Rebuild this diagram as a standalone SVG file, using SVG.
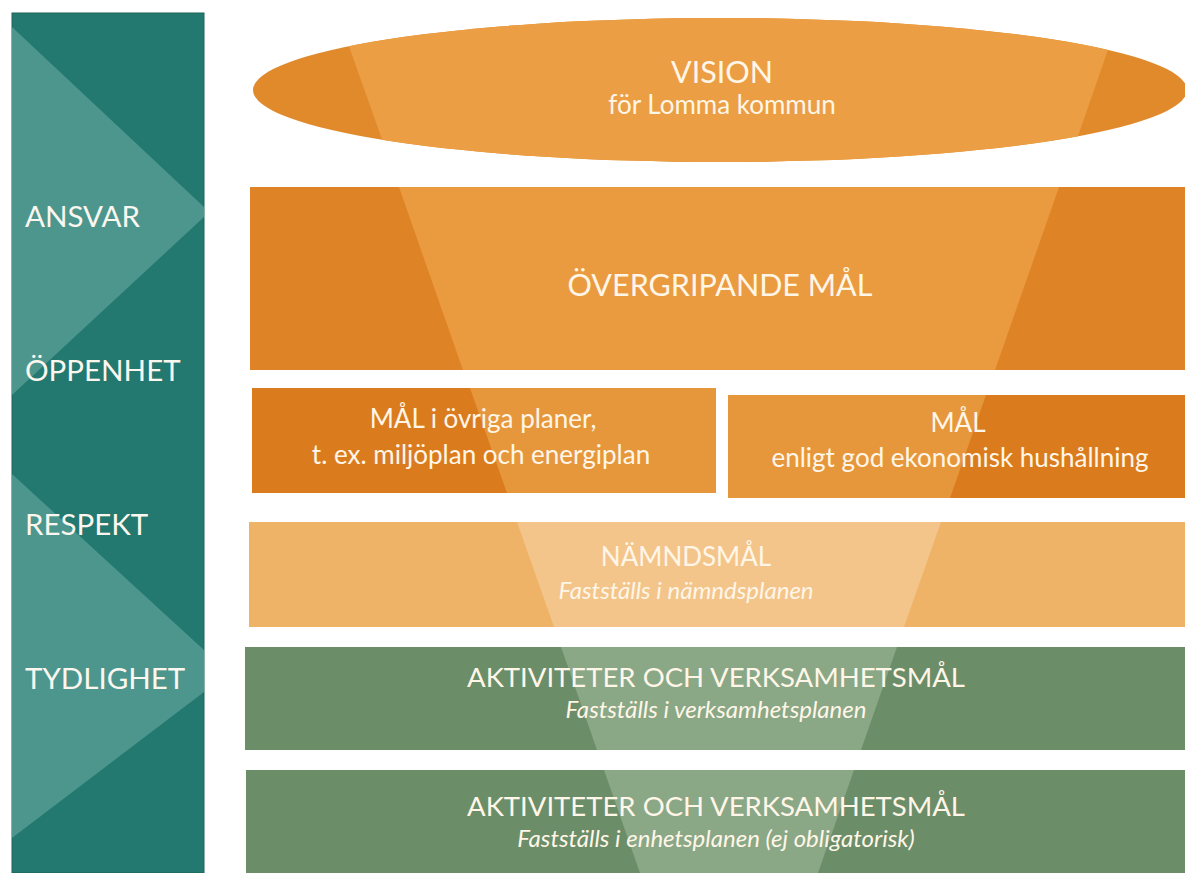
<svg xmlns="http://www.w3.org/2000/svg" width="1185" height="873" viewBox="0 0 1185 873">
<defs>
<style>
.lbl{font-family:Lato,"Open Sans","Liberation Sans",sans-serif;fill:#fbf6ee;font-size:29.5px}
.t{font-family:Lato,"Open Sans","Liberation Sans",sans-serif;fill:#fff6e8;text-anchor:middle}
.h1{font-size:30.5px}
.h2{font-size:26px}
.h3{font-size:27.5px}
.it{font-style:italic;font-size:24px}
</style>
<clipPath id="clipEll"><ellipse cx="720" cy="90" rx="467" ry="72"/></clipPath>
</defs>
<rect width="1185" height="873" fill="#ffffff"/>

<g id="values">
<rect x="12" y="13" width="192" height="860" fill="#23786f" stroke="#1c6259" stroke-width="1"/>
<polygon points="12,27 204,207 204,217 12,395" fill="#4c968e"/>
<polygon points="12,474 204,650 204,692 12,838" fill="#4c968e"/>
<text class="lbl" x="25" y="227">ANSVAR</text>
<text class="lbl" x="25" y="381">ÖPPENHET</text>
<text class="lbl" x="25" y="535">RESPEKT</text>
<text class="lbl" x="25" y="689">TYDLIGHET</text>
</g>

<g id="vision">
<ellipse cx="720" cy="90" rx="467" ry="72" fill="#e08a2b"/>
<polygon clip-path="url(#clipEll)" points="339,18 1119,18 1069,162 390,162" fill="#eb9e43"/>
<text class="t h1" x="722" y="83">VISION</text>
<text class="t h2" x="722" y="114">för Lomma kommun</text>
</g>

<g id="overgripande">
<rect x="250" y="187" width="935" height="183" fill="#de8426"/>
<polygon points="399,187 1059,187 995,370 463,370" fill="#ea9b40"/>
<text class="t h1" x="720" y="296">ÖVERGRIPANDE MÅL</text>
</g>

<g id="mal-planer">
<rect x="252" y="388" width="464" height="105" fill="#da7c1e"/>
<polygon points="470,388 716,388 716,493 507,493" fill="#e6973c"/>
<text class="t h2" x="483" y="428">MÅL i övriga planer,</text>
<text class="t h2" x="481" y="464">t. ex. miljöplan och energiplan</text>
</g>

<g id="mal-ekonomi">
<rect x="728" y="395" width="457" height="103" fill="#da7c1e"/>
<polygon points="728,395 986,395 950,498 728,498" fill="#e6973c"/>
<text class="t h2" x="958" y="432">MÅL</text>
<text class="t h2" x="960" y="467">enligt god ekonomisk hushållning</text>
</g>

<g id="namndsmal">
<rect x="249" y="522" width="936" height="105" fill="#eeb366"/>
<polygon points="517,522 941,522 904,627 554,627" fill="#f3c58a"/>
<text class="t h2" x="686" y="566">NÄMNDSMÅL</text>
<text class="t it" x="686" y="599">Fastställs i nämndsplanen</text>
</g>

<g id="verksamhetsplan">
<rect x="245" y="647" width="940" height="103" fill="#6b8d68"/>
<polygon points="561,647 897,647 861,750 597,750" fill="#8aa786"/>
<text class="t h3" x="716" y="687">AKTIVITETER OCH VERKSAMHETSMÅL</text>
<text class="t it" x="716" y="718">Fastställs i verksamhetsplanen</text>
</g>

<g id="enhetsplan">
<rect x="246" y="770" width="939" height="103" fill="#6b8d68"/>
<polygon points="604,770 854,770 818,873 640,873" fill="#8aa786"/>
<text class="t h3" x="716" y="816">AKTIVITETER OCH VERKSAMHETSMÅL</text>
<text class="t it" x="716" y="847">Fastställs i enhetsplanen (ej obligatorisk)</text>
</g>

<g id="connectors"></g>
</svg>
